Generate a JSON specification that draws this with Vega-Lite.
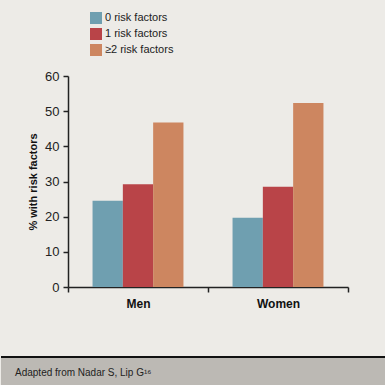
{
  "$schema": "https://vega.github.io/schema/vega-lite/v6.json",
  "background": "#edebe7",
  "padding": {"top": 12, "left": 0, "right": 0, "bottom": 0},
  "autosize": {"type": "pad"},
  "config": {"view": {"stroke": null}, "font": "Liberation Sans"},
  "spacing": 47,
  "vconcat": [
    {
      "spacing": 25,
      "hconcat": [
        {
          "width": 1,
          "height": 1,
          "data": {"values": []},
          "mark": {"type": "point", "opacity": 0},
          "encoding": {}
        },
        {
          "width": 280,
          "height": 211,
          "data": {"values": [
            {"sex": "Men", "risk": "0 risk factors", "pct": 24.5},
            {"sex": "Men", "risk": "1 risk factors", "pct": 29.2},
            {"sex": "Men", "risk": "≥2 risk factors", "pct": 46.8},
            {"sex": "Women", "risk": "0 risk factors", "pct": 19.7},
            {"sex": "Women", "risk": "1 risk factors", "pct": 28.5},
            {"sex": "Women", "risk": "≥2 risk factors", "pct": 52.3}
          ]},
          "mark": {"type": "bar"},
          "encoding": {
            "x": {"field": "sex", "type": "nominal", "sort": ["Men", "Women"],
              "scale": {"paddingInner": 0, "paddingOuter": 0},
              "axis": {"title": null, "labelAngle": 0, "labelFontWeight": "bold", "labelFontSize": 12, "labelColor": "#111",
                "tickBand": "extent", "domainColor": "#222", "domainWidth": 1.5, "tickColor": "#222", "tickWidth": 1.5, "tickSize": 5, "labelPadding": 6}},
            "xOffset": {"field": "risk", "type": "nominal", "sort": ["0 risk factors", "1 risk factors", "≥2 risk factors"],
              "scale": {"paddingInner": 0, "paddingOuter": 0.81}},
            "y": {"field": "pct", "type": "quantitative", "scale": {"domain": [0, 60]},
              "axis": {"title": "% with risk factors", "grid": false, "values": [0, 10, 20, 30, 40, 50, 60],
                "labelFontSize": 13, "labelColor": "#222", "titleFontSize": 11, "titleFontWeight": "bold", "titleColor": "#111",
                "domainColor": "#222", "domainWidth": 1.5, "tickColor": "#222", "tickWidth": 1.5, "tickSize": 5, "labelPadding": 4, "titlePadding": 6}},
            "color": {"field": "risk", "type": "nominal",
              "scale": {"domain": ["0 risk factors", "1 risk factors", "≥2 risk factors"], "range": ["#6f9fb0", "#b94448", "#cd8660"]},
              "legend": {"orient": "none", "legendX": 89, "legendY": -64, "title": null, "symbolType": "square", "symbolSize": 144,
                "symbolStrokeWidth": 0, "labelFontSize": 11, "labelColor": "#222", "rowPadding": 4, "labelOffset": 3}}
          }
        }
      ]
    },
    {
      "width": 385,
      "height": 30,
      "view": {"fill": "#bcb9b4", "stroke": null},
      "data": {"values": [{"note": "Adapted from Nadar S, Lip G¹⁶"}]},
      "layer": [
        {"mark": {"type": "rule", "color": "#111", "strokeWidth": 2}, "encoding": {"y": {"value": 1}}},
        {"mark": {"type": "text", "align": "left", "baseline": "middle", "fontSize": 10, "color": "#222", "x": 14, "y": 17},
          "encoding": {"text": {"field": "note"}}}
      ]
    }
  ]
}
